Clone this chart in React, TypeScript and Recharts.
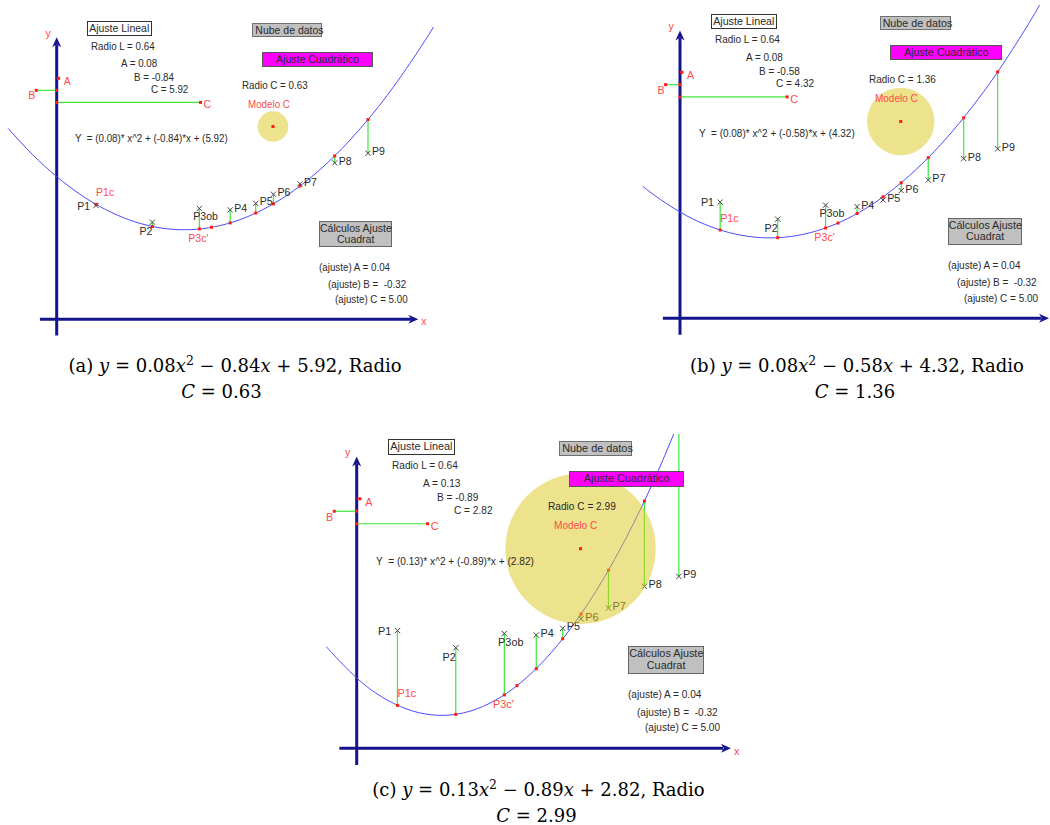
import React from 'react';
import { ComposedChart, Line, Scatter, XAxis, YAxis, ReferenceLine, ReferenceDot } from 'recharts';

// nube de datos (the same points in the three panels)
const pointNames = ['P1', 'P2', 'P3ob', 'P4', 'P5', 'P6', 'P7', 'P8', 'P9'];
const pointX = [1.62, 3.94, 5.87, 7.14, 8.19, 8.92, 10.01, 11.44, 12.81];
const pointY = [4.72, 4.03, 4.6, 4.54, 4.81, 5.19, 5.62, 6.49, 6.89];
const fitNames = ['P1c', '', "P3c'", '', '', '', '', '', ''];
const extraX = 6.37;

// (a) y = 0.08x^2 - 0.84x + 5.92
const curveXA = [-2, -1, 0, 1, 2, 3, 4, 5, 6, 7, 8, 9, 10, 11, 12, 13, 14, 15, 15.5];
const curveYA = [7.92, 6.84, 5.92, 5.16, 4.56, 4.12, 3.84, 3.72, 3.76, 3.96, 4.32, 4.84, 5.52, 6.36, 7.36, 8.52, 9.84, 11.32, 12.12];
const fitYA = [4.77, 3.85, 3.75, 4.0, 4.41, 4.79, 5.53, 6.78, 8.29];
const extraYA = 3.82;
const coefA = [0.08, -0.84, 5.92];

// (b) y = 0.08x^2 - 0.58x + 4.32
const curveXB = [-1.5, -1, 0, 1, 2, 3, 4, 5, 6, 7, 8, 9, 10, 11, 12, 13, 14, 14.5];
const curveYB = [5.37, 4.98, 4.32, 3.82, 3.48, 3.3, 3.28, 3.42, 3.72, 4.18, 4.8, 5.58, 6.52, 7.62, 8.88, 10.3, 11.88, 12.73];
const fitYB = [3.59, 3.28, 3.67, 4.26, 4.94, 5.51, 6.53, 8.15, 10.02];
const extraYB = 3.87;
const coefB = [0.08, -0.58, 4.32];

// (c) y = 0.13x^2 - 0.89x + 2.82
const curveXC = [-1.2, -1, 0, 1, 2, 3, 4, 5, 6, 7, 8, 9, 10, 11, 12, 13];
const curveYC = [4.08, 3.84, 2.82, 2.06, 1.57, 1.34, 1.37, 1.67, 2.23, 3.06, 4.15, 5.5, 7.12, 9.0, 11.15, 13.56];
const fitYC = [1.72, 1.36, 2.14, 3.19, 4.39, 5.38, 7.14, 9.91, 13.08];
const extraYC = 2.51;
const coefC = [0.13, -0.89, 2.82];

const radios = [0.63, 1.36, 2.99];
const modelCenter = [8.9, 8.0];
const coefRows = [10, 9.5, 9]; // heights of the A, B, C markers
const ajuste = ['0.04', '-0.32', '5.00'];
const radioL = '0.64';

const axisX = [-0.69, 14.88];
const axisY = [-0.67, 11.7];

const AXIS = '#14148c';
const CURVE = '#4b4bff';
const GREEN = '#3be83b';
const RED = '#ff1a1a';
const LBL_RED = '#ff4a4a';
const INK = '#2a2a2a';
const SANS = '"Liberation Sans", Arial, sans-serif';
const SERIF = '"DejaVu Serif", "Liberation Serif", serif';

type Cfg = { left: number; top: number; width: number; height: number; ox: number; oy: number; sx: number; sy: number };

const cfgA: Cfg = { left: 0, top: 10, width: 440, height: 330, ox: 56.7, oy: 309.3, sx: 24.3, sy: 24.1 };
const cfgB: Cfg = { left: 630, top: 5, width: 420, height: 330, ox: 50, oy: 313.3, sx: 24.8, sy: 24.6 };
const cfgC: Cfg = { left: 310, top: 434, width: 440, height: 331, ox: 46.7, oy: 314.3, sx: 25.15, sy: 24.95 };

const fmt = (v: number) => v.toFixed(2);

function Panel({ cfg, curveX, curveY, fitY, extraY, coef, radio }: {
  cfg: Cfg; curveX: number[]; curveY: number[]; fitY: number[]; extraY: number; coef: number[]; radio: number;
}) {
  const { width, height, ox, oy, sx, sy } = cfg;
  const k = sx / 24.3;
  const fs = 10.5 * k;
  const xDomain = [-ox / sx, (width - ox) / sx];
  const yDomain = [-(height - oy) / sy, oy / sy];
  const curve = curveX.map((x, i) => ({ x, y: curveY[i] }));
  const obs = pointX.map((x, i) => ({ x, y: pointY[i], name: pointNames[i], i }));
  const fit = pointX.map((x, i) => ({ x, y: fitY[i], name: fitNames[i] })).concat([{ x: extraX, y: extraY, name: '' }]);
  // the x label only shows when there is room right of the arrow
  const showXLabel = ox + axisX[1] * sx + 12 < width;

  const cross = (p: any) => {
    const { cx, cy, payload } = p;
    const d = 2.6 * k;
    const i = payload.i;
    let tx = cx + 4 * k, ty = cy + 2 * k, anchor = 'start';
    if (i === 0) { tx = cx - 6 * k; ty = cy + 4 * k; anchor = 'end'; }
    if (i === 1) { tx = cx; ty = cy + 13 * k; anchor = 'end'; }
    if (i === 2) { tx = cx - 6 * k; ty = cy + 12 * k; }
    return (
      <g>
        <path d={`M${cx - d},${cy - d}L${cx + d},${cy + d}M${cx - d},${cy + d}L${cx + d},${cy - d}`} stroke="#444" strokeWidth={1} />
        <text x={tx} y={ty} textAnchor={anchor} fontSize={fs} fontFamily={SANS} fill={INK}>{payload.name}</text>
      </g>
    );
  };

  const redDot = (p: any) => {
    const { cx, cy, payload } = p;
    let label = null;
    if (payload.name === 'P1c') label = <text x={cx} y={cy - 8 * k} fontSize={fs} fontFamily={SANS} fill={LBL_RED}>{payload.name}</text>;
    if (payload.name === "P3c'") label = <text x={cx - 11 * k} y={cy + 13 * k} fontSize={fs} fontFamily={SANS} fill={LBL_RED}>{payload.name}</text>;
    return (
      <g>
        <rect x={cx - 1.5} y={cy - 1.5} width={3} height={3} fill={RED} />
        {label}
      </g>
    );
  };

  const dot = (p: any) => <rect x={p.cx - 1.5} y={p.cy - 1.5} width={3} height={3} fill={RED} />;
  const txt = (s: string, anchor: string, dx: number, dy: number) => (p: any) => (
    <text x={p.cx + dx * k} y={p.cy + dy * k} textAnchor={anchor} fontSize={fs} fontFamily={SANS} fill={LBL_RED}>{s}</text>
  );
  const arrowRight = (p: any) => (
    <path d={`M${p.cx},${p.cy}L${p.cx - 10},${p.cy - 4.5}L${p.cx - 7},${p.cy}L${p.cx - 10},${p.cy + 4.5}Z`} fill={AXIS} />
  );
  const arrowUp = (p: any) => (
    <path d={`M${p.cx},${p.cy}L${p.cx - 4.5},${p.cy + 10}L${p.cx},${p.cy + 7}L${p.cx + 4.5},${p.cy + 10}Z`} fill={AXIS} />
  );
  const circle = (p: any) => (
    <g>
      <circle cx={p.cx} cy={p.cy} r={radio * sx} fill="#dcc81c" fillOpacity={0.5} />
      <rect x={p.cx - 1.5} y={p.cy - 1.5} width={3} height={3} fill={RED} />
    </g>
  );

  return (
    <div style={{ position: 'absolute', left: cfg.left, top: cfg.top }}>
      <ComposedChart width={width} height={height} margin={{ top: 0, right: 0, bottom: 0, left: 0 }}>
        <XAxis type="number" dataKey="x" domain={xDomain} allowDataOverflow hide />
        <YAxis type="number" dataKey="y" domain={yDomain} allowDataOverflow hide />
        <ReferenceLine segment={[{ x: axisX[0], y: 0 }, { x: axisX[1] - 0.3, y: 0 }]} stroke={AXIS} strokeWidth={3} ifOverflow="visible" />
        <ReferenceLine segment={[{ x: 0, y: axisY[0] }, { x: 0, y: axisY[1] - 0.3 }]} stroke={AXIS} strokeWidth={3} ifOverflow="visible" />
        <ReferenceDot x={axisX[1]} y={0} shape={arrowRight} ifOverflow="visible" />
        <ReferenceDot x={0} y={axisY[1]} shape={arrowUp} ifOverflow="visible" />
        {showXLabel && <ReferenceDot x={axisX[1]} y={0} shape={txt('x', 'start', 3, 6)} ifOverflow="visible" />}
        <ReferenceDot x={0} y={axisY[1]} shape={txt('y', 'end', -6, 0)} ifOverflow="visible" />

        <ReferenceLine segment={[{ x: 0, y: coefRows[1] }, { x: coef[1], y: coefRows[1] }]} stroke={GREEN} strokeWidth={1.2} ifOverflow="visible" />
        <ReferenceLine segment={[{ x: 0, y: coefRows[2] }, { x: coef[2], y: coefRows[2] }]} stroke={GREEN} strokeWidth={1.2} ifOverflow="visible" />
        <ReferenceLine segment={[{ x: 0, y: coefRows[0] }, { x: coef[0], y: coefRows[0] }]} stroke={RED} strokeWidth={2} ifOverflow="visible" />
        <ReferenceDot x={coef[0]} y={coefRows[0]} shape={dot} ifOverflow="visible" />
        <ReferenceDot x={0} y={coefRows[1]} shape={dot} ifOverflow="visible" />
        <ReferenceDot x={coef[1]} y={coefRows[1]} shape={dot} ifOverflow="visible" />
        <ReferenceDot x={0} y={coefRows[2]} shape={dot} ifOverflow="visible" />
        <ReferenceDot x={coef[2]} y={coefRows[2]} shape={dot} ifOverflow="visible" />
        <ReferenceDot x={coef[0]} y={coefRows[0]} shape={txt('A', 'start', 5, 6.5)} ifOverflow="visible" />
        <ReferenceDot x={coef[1]} y={coefRows[1]} shape={txt('B', 'end', -1, 9)} ifOverflow="visible" />
        <ReferenceDot x={coef[2]} y={coefRows[2]} shape={txt('C', 'start', 3, 6)} ifOverflow="visible" />

        <Line data={curve} dataKey="y" type="natural" stroke={CURVE} strokeWidth={1} dot={false} isAnimationActive={false} />
        {pointX.map((x, i) => (
          <ReferenceLine key={i} segment={[{ x, y: pointY[i] }, { x, y: fitY[i] }]} stroke={GREEN} strokeWidth={1.2} ifOverflow="hidden" />
        ))}
        <Scatter data={fit} dataKey="y" shape={redDot} isAnimationActive={false} />
        <Scatter data={obs} dataKey="y" shape={cross} isAnimationActive={false} />
        <ReferenceDot x={modelCenter[0]} y={modelCenter[1]} shape={circle} ifOverflow="visible" />
      </ComposedChart>
    </div>
  );
}

// GeoGebra texts, laid out in pixels relative to the origin at the scale of panel (a)
function Overlay({ cfg, coef, radio }: { cfg: Cfg; coef: number[]; radio: number }) {
  const k = cfg.sx / 24.3;
  const X0 = cfg.left + cfg.ox;
  const Y0 = cfg.top + cfg.oy;
  const fs = 11 * k;
  const eq = `Y  = (${fmt(coef[0])})* x^2 + (${fmt(coef[1])})*x + (${fmt(coef[2])})`;
  const boxes = [
    { t: 'Ajuste Lineal', dx: 30, dy: -298.6, w: 65, h: 15, bg: '#ffffff', bd: '#333', al: 'center' },
    { t: 'Nube de datos', dx: 195.6, dy: -296.6, w: 70, h: 14.6, bg: '#c0c0c0', bd: '#707070', al: 'left' },
    { t: 'Ajuste Cuadrático', dx: 205.6, dy: -267.6, w: 110.4, h: 15, bg: '#ff00ff', bd: '#555', al: 'center' },
    { t: 'Cálculos Ajuste\nCuadrat', dx: 262.3, dy: -98.6, w: 73.3, h: 26.6, bg: '#c0c0c0', bd: '#666', al: 'center' },
  ];
  const texts = [
    { t: `Radio L = ${radioL}`, dx: 34, dy: -273.6, c: INK },
    { t: `A = ${fmt(coef[0])}`, dx: 64.3, dy: -256, c: INK },
    { t: `B = ${fmt(coef[1])}`, dx: 77.3, dy: -242.6, c: INK },
    { t: `C = ${fmt(coef[2])}`, dx: 94.3, dy: -230.3, c: INK },
    { t: `Radio C = ${fmt(radio)}`, dx: 185, dy: -234.3, c: INK },
    { t: 'Modelo C', dx: 191, dy: -215.3, c: LBL_RED },
    { t: eq, dx: 18.3, dy: -181, c: INK },
    { t: `(ajuste) A = ${ajuste[0]}`, dx: 262.3, dy: -52, c: INK },
    { t: `(ajuste) B =  ${ajuste[1]}`, dx: 271, dy: -35.3, c: INK },
    { t: `(ajuste) C = ${ajuste[2]}`, dx: 278.3, dy: -20, c: INK },
  ];
  return (
    <>
      {boxes.map((b, i) => (
        <div key={'b' + i} style={{
          position: 'absolute', left: X0 + b.dx * k, top: Y0 + b.dy * k, width: b.w * k, height: b.h * k,
          boxSizing: 'border-box', background: b.bg, border: `1px solid ${b.bd}`,
          fontFamily: SANS, fontSize: 10.5 * k, lineHeight: `${11.5 * k}px`, color: INK, textAlign: b.al as any,
          whiteSpace: 'pre', paddingTop: 1, paddingLeft: b.al === 'left' ? 2 * k : 0,
        }}>{b.t}</div>
      ))}
      {texts.map((t, i) => (
        <div key={'t' + i} style={{
          position: 'absolute', left: X0 + t.dx * k, top: Y0 + t.dy * k - 7 * k, height: 14 * k,
          fontFamily: SANS, fontSize: fs, lineHeight: `${14 * k}px`, color: t.c, whiteSpace: 'pre',
          transform: 'scaleX(0.89)', transformOrigin: 'left center',
        }}>{t.t}</div>
      ))}
    </>
  );
}

function Caption({ cx, cy, label, coef, radio, cx2 }: { cx: number; cy: number; label: string; coef: number[]; radio: number; cx2: number }) {
  const line: React.CSSProperties = {
    position: 'absolute', width: 600, textAlign: 'center', fontFamily: SERIF, fontSize: 18, lineHeight: '24px', whiteSpace: 'nowrap', color: '#000',
  };
  const sup: React.CSSProperties = { fontSize: 12.5, lineHeight: 0, verticalAlign: '0.55em' };
  return (
    <>
      <div style={{ ...line, left: cx - 300, top: cy - 12 }}>
        ({label}) <i>y</i> = {fmt(coef[0])}<i>x</i><span style={sup}>2</span> − {fmt(Math.abs(coef[1]))}<i>x</i> + {fmt(coef[2])}, Radio
      </div>
      <div style={{ ...line, left: cx2 - 300, top: cy + 14 }}>
        <i>C</i> = {fmt(radio)}
      </div>
    </>
  );
}

export default function App() {
  return (
    <div style={{ position: 'absolute', left: 0, top: 0, width: 1050, height: 825, background: '#fff', overflow: 'hidden' }}>
      <Panel cfg={cfgA} curveX={curveXA} curveY={curveYA} fitY={fitYA} extraY={extraYA} coef={coefA} radio={radios[0]} />
      <Panel cfg={cfgB} curveX={curveXB} curveY={curveYB} fitY={fitYB} extraY={extraYB} coef={coefB} radio={radios[1]} />
      <Panel cfg={cfgC} curveX={curveXC} curveY={curveYC} fitY={fitYC} extraY={extraYC} coef={coefC} radio={radios[2]} />
      <Overlay cfg={cfgA} coef={coefA} radio={radios[0]} />
      <Overlay cfg={cfgB} coef={coefB} radio={radios[1]} />
      <Overlay cfg={cfgC} coef={coefC} radio={radios[2]} />
      <Caption cx={235} cx2={221.5} cy={366} label="a" coef={coefA} radio={radios[0]} />
      <Caption cx={857} cx2={855} cy={366} label="b" coef={coefB} radio={radios[1]} />
      <Caption cx={538.5} cx2={536.5} cy={790} label="c" coef={coefC} radio={radios[2]} />
    </div>
  );
}
